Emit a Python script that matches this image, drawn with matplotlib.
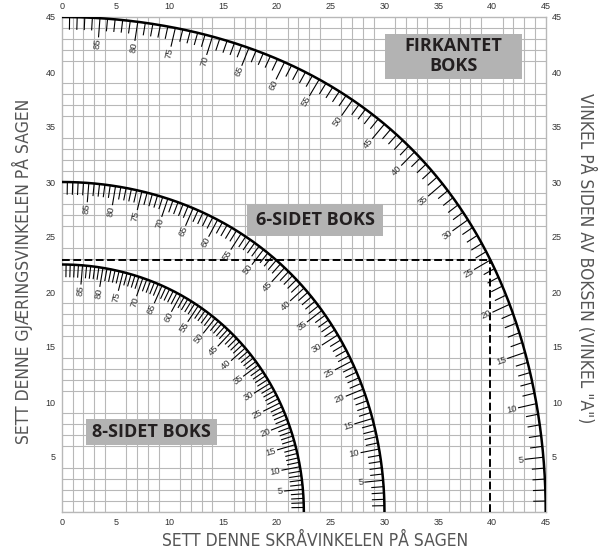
import numpy as np
import matplotlib
matplotlib.use("Agg")
import matplotlib.pyplot as plt
from matplotlib.patches import Rectangle

# boxes: number of sides and the label printed in the chart
box_sides = [4, 6, 8]
box_names = ["FIRKANTET\nBOKS", "6-SIDET BOKS", "8-SIDET BOKS"]

# side angle A (degrees) for the scale ticks and the numbered ticks
tick_angles = list(range(1, 90))
label_angles = list(range(5, 90, 5))

# worked example: square box with sides at 25 degrees
example_sides = 4
example_angle = 25

axis_ticks = list(range(0, 46, 5))

GRID = "#b8b8b8"
INK = "#333333"


def miter_angle(a, sides):
    half = np.radians(180.0 / sides)
    return np.degrees(np.arctan(np.sin(np.radians(a)) * np.tan(half)))


def bevel_angle(a, sides):
    half = np.radians(180.0 / sides)
    return np.degrees(np.arcsin(np.cos(np.radians(a)) * np.sin(half)))


fig = plt.figure(figsize=(6, 5.5), dpi=100)
ax = fig.add_axes([62 / 600, 38 / 550, 483.7 / 600, 495 / 550])
ax.set_xlim(0, 45)
ax.set_ylim(0, 45)

# 1-unit grid
ax.set_xticks(np.arange(0, 46, 1), minor=True)
ax.set_yticks(np.arange(0, 46, 1), minor=True)
ax.grid(which="minor", color=GRID, linewidth=0.8)
ax.grid(which="major", visible=False)
ax.set_xticks(axis_ticks)
ax.set_yticks(axis_ticks[1:])
ax.tick_params(which="both", length=0, labelsize=6.5, labelcolor=INK)
ax.tick_params(axis="x", top=True, labeltop=True, pad=4.2)
ax.tick_params(axis="y", right=True, labelright=True, pad=4.5)
for lab in ax.get_xticklabels() + ax.get_yticklabels():
    lab.set_fontfamily("Liberation Sans")
for s in ax.spines.values():
    s.set_color(GRID)
    s.set_linewidth(1.0)

# curved scales, one per box type
for sides in box_sides:
    a = np.linspace(0, 90, 400)
    ax.plot(bevel_angle(a, sides), miter_angle(a, sides), color="black",
            lw=1.8, solid_capstyle="butt", zorder=4)
    for ang in tick_angles:
        x = bevel_angle(ang, sides)
        y = miter_angle(ang, sides)
        r = np.hypot(x, y)
        ux, uy = x / r, y / r
        major = ang in label_angles
        length = 1.7 if major else 1.1
        ax.plot([x, x - ux * length], [y, y - uy * length], color="black",
                lw=0.8, zorder=4)
        if major:
            rot = np.degrees(np.arctan2(uy * 11.0, ux * 10.75))
            ax.text(x - ux * (length + 0.15), y - uy * (length + 0.15), str(ang),
                    rotation=rot, rotation_mode="anchor", ha="right",
                    va="center", fontsize=6.8, color=INK,
                    family="Liberation Sans", zorder=5)

# example reading
ex_x = bevel_angle(example_angle, example_sides)
ex_y = miter_angle(example_angle, example_sides)
ax.plot([0, ex_x], [ex_y, ex_y], color="black", lw=1.4,
        linestyle=(0, (4, 1.8)), zorder=3)
ax.plot([ex_x, ex_x], [0, ex_y], color="black", lw=1.4,
        linestyle=(0, (4, 1.8)), zorder=3)

# name boxes
box_rects = [(30.05, 39.4, 12.7, 4.1), (17.2, 25.1, 12.7, 2.9),
             (2.23, 6.06, 12.17, 2.39)]
for name, (bx, by, bw, bh) in zip(box_names, box_rects):
    ax.add_patch(Rectangle((bx, by), bw, bh, facecolor="#b3b3b3",
                           edgecolor="none", zorder=5))
    ax.text(bx + bw / 2, by + bh / 2, name, ha="center", va="center",
            fontsize=13, fontweight="bold", color="#231f20",
            family="Open Sans", linespacing=1.2, zorder=6)

label_style = dict(ha="center", va="center", fontsize=12.5, color="#555555",
                   family="DejaVu Sans", fontstretch="condensed")
fig.text(315 / 600, 1 - 541 / 550, "SETT DENNE SKRÅVINKELEN PÅ SAGEN",
         **label_style)
fig.text(22 / 600, 1 - 271 / 550, "SETT DENNE GJÆRINGSVINKELEN PÅ SAGEN",
         rotation=90, **label_style)
fig.text(586 / 600, 1 - 258 / 550, 'VINKEL PÅ SIDEN AV BOKSEN (VINKEL "A")',
         rotation=270, **label_style)

fig.savefig("out.png", dpi=100)
